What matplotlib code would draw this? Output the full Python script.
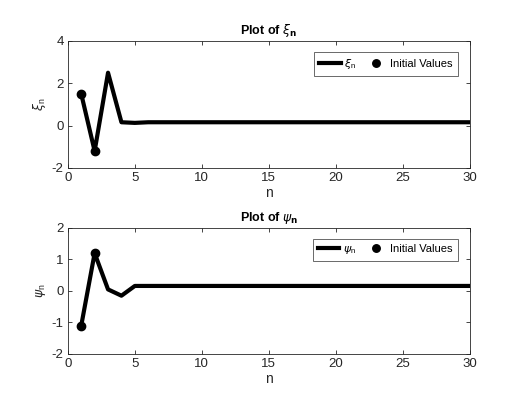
import matplotlib
matplotlib.use('Agg')
import matplotlib.pyplot as plt
import numpy as np

plt.rcParams['font.family'] = ['Liberation Sans', 'DejaVu Sans']
plt.rcParams['mathtext.fontset'] = 'dejavusans'
plt.rcParams['axes.unicode_minus'] = False

# data
n = list(range(1, 31))
xi = [1.5, -1.2, 2.5, 0.16, 0.13, 0.16, 0.16, 0.16, 0.16, 0.16,
      0.16, 0.16, 0.16, 0.16, 0.16, 0.16, 0.16, 0.16, 0.16, 0.16,
      0.16, 0.16, 0.16, 0.16, 0.16, 0.16, 0.16, 0.16, 0.16, 0.16]
psi = [-1.1, 1.2, 0.05, -0.15, 0.16, 0.16, 0.16, 0.16, 0.16, 0.16,
       0.16, 0.16, 0.16, 0.16, 0.16, 0.16, 0.16, 0.16, 0.16, 0.16,
       0.16, 0.16, 0.16, 0.16, 0.16, 0.16, 0.16, 0.16, 0.16, 0.16]
init_n = [1, 2]
xi_init = xi[:2]
psi_init = psi[:2]

AX_COLOR = '#262626'


def style_axes(ax, ylim, yticks):
    ax.set_xlim(0, 30)
    ax.set_ylim(*ylim)
    ax.set_xticks([0, 5, 10, 15, 20, 25, 30])
    ax.set_yticks(yticks)
    ax.tick_params(direction='in', top=True, right=True, length=3,
                   width=0.6, labelsize=9.5, color=AX_COLOR, labelcolor=AX_COLOR, pad=3)
    for s in ax.spines.values():
        s.set_color(AX_COLOR)
        s.set_linewidth(0.6)


fig = plt.figure(figsize=(5.3, 3.98), dpi=100)
ax1 = fig.add_axes([0.128, 0.578, 0.7585, 0.319])
ax2 = fig.add_axes([0.128, 0.1106, 0.7585, 0.3166])

for ax, y, yi, sym, ylim, yt in [
        (ax1, xi, xi_init, r'\xi', (-2, 4), [-2, 0, 2, 4]),
        (ax2, psi, psi_init, r'\psi', (-2, 2), [-2, -1, 0, 1, 2])]:
    ax.plot(n, y, color='black', linewidth=3, label=r'$%s_\mathregular{n}$' % sym,
            solid_joinstyle='round')
    ax.plot(init_n, yi, 'o', color='black', markersize=6, label='Initial Values')
    style_axes(ax, ylim, yt)
    ax.set_xlabel('n', fontsize=10, color=AX_COLOR, labelpad=1)
    ax.set_ylabel(r'$%s_\mathregular{n}$' % sym, fontsize=9, color=AX_COLOR, labelpad=3)
    ax.set_title(r'Plot of $%s_\mathbf{n}$' % sym, fontsize=9, fontweight='bold', pad=5)
    leg = ax.legend(loc='upper right', ncol=2, fontsize=8, frameon=True, fancybox=False,
                    bbox_to_anchor=(0.97, 0.913), handlelength=1.9, columnspacing=0.9,
                    handletextpad=0.3, borderpad=0.45, borderaxespad=0, markerscale=0.9)
    leg.get_frame().set_edgecolor(AX_COLOR)
    leg.get_frame().set_linewidth(0.6)

plt.savefig('out.png', dpi=100, facecolor='white')
plt.close()
